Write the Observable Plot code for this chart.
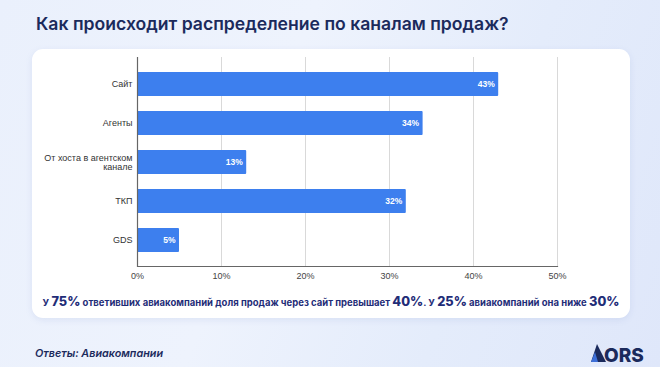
<!DOCTYPE html>
<html><head><meta charset="utf-8">
<script src="https://cdn.jsdelivr.net/npm/d3@7"></script>
<script src="https://cdn.jsdelivr.net/npm/@observablehq/plot@0.6"></script>
<style>
html,body{margin:0;padding:0;}
body{width:660px;height:367px;position:relative;overflow:hidden;font-family:Inter,"Open Sans",sans-serif;
 background:linear-gradient(110deg,#eaf0fc 0%,#eef3fd 40%,#e4ecfb 70%,#dfe7fa 100%);}
#title{position:absolute;left:36px;top:13px;font-size:17.6px;font-weight:600;color:#1b2a5c;white-space:nowrap;}
#card{position:absolute;left:32px;top:49px;width:598px;height:269px;background:#fff;border-radius:11px;box-shadow:0 2px 6px rgba(120,140,200,0.15);}
#chart{position:absolute;left:0;top:0;}
#note{position:absolute;left:0;width:598px;top:245px;text-align:center;font-size:9.5px;font-weight:700;color:#1f2d78;white-space:nowrap;}
#note b{font-size:12.8px;font-weight:800;}
#caption{position:absolute;left:35px;top:347px;font-size:10.8px;font-style:italic;font-weight:600;color:#1b2a5c;}
#logo{position:absolute;left:589px;top:340px;}
</style></head>
<body>
<div id="title">Как происходит распределение по каналам продаж?</div>
<div id="card"><div id="chart"></div>
<div id="note">У <b>75%</b> ответивших авиакомпаний доля продаж через сайт превышает <b>40%</b>. У <b>25%</b> авиакомпаний она ниже <b>30%</b></div>
</div>
<div id="caption">Ответы: Авиакомпании</div>
<div id="logo"><svg width="66" height="26" viewBox="0 0 66 26">
<polygon points="2,22 8,4 17,22" fill="#1b2a5c"/>
<polygon points="2,22 6,12 9,22" fill="#3d6fd8"/>
<text x="15" y="22" font-family="Inter,sans-serif" font-weight="800" font-size="19" fill="#1b2a5c">ORS</text>
</svg></div>
<script>
const channels = ["Сайт", "Агенты", "От хоста в агентском канале", "ТКП", "GDS"];
const shares = [43, 34, 13, 32, 5];
const xTicks = [0, 10, 20, 30, 40, 50];
const tickLabel = {"От хоста в агентском канале": "От хоста в агентском\nканале"};

const data = channels.map((c, i) => ({channel: c, value: shares[i]}));

const plot = Plot.plot({
  width: 598,
  height: 236,
  marginLeft: 105,
  marginRight: 73,
  marginTop: 8,
  marginBottom: 19,
  style: {fontFamily: "Arial, 'Liberation Sans', sans-serif", fontSize: "9px", color: "#444", background: "transparent"},
  x: {domain: [0, 50], label: null},
  y: {domain: channels, paddingInner: 0.39, paddingOuter: 0.357, label: null},
  marks: [
    Plot.gridX(xTicks.slice(1), {stroke: "#d9d9d9", strokeOpacity: 1, strokeWidth: 1}),
    Plot.barX(data, {x: "value", y: "channel", fill: "#3d7fee", rx: 1}),
    Plot.text(data, {x: "value", y: "channel", text: d => d.value + "%", textAnchor: "end", dx: -4, fill: "#fff", fontWeight: "bold", fontSize: 8.5}),
    Plot.ruleX([0], {stroke: "#666", strokeWidth: 1.2}),
    Plot.frame({anchor: "bottom", stroke: "#666", strokeWidth: 1.2}),
    Plot.axisX({ticks: xTicks, tickFormat: d => d + "%", tickSize: 0, tickPadding: 6, fill: "#444"}),
    Plot.axisY({tickSize: 0, tickPadding: 5, fill: "#333", tickFormat: d => tickLabel[d] || d})
  ]
});
document.getElementById("chart").appendChild(plot);
</script>
</body></html>
